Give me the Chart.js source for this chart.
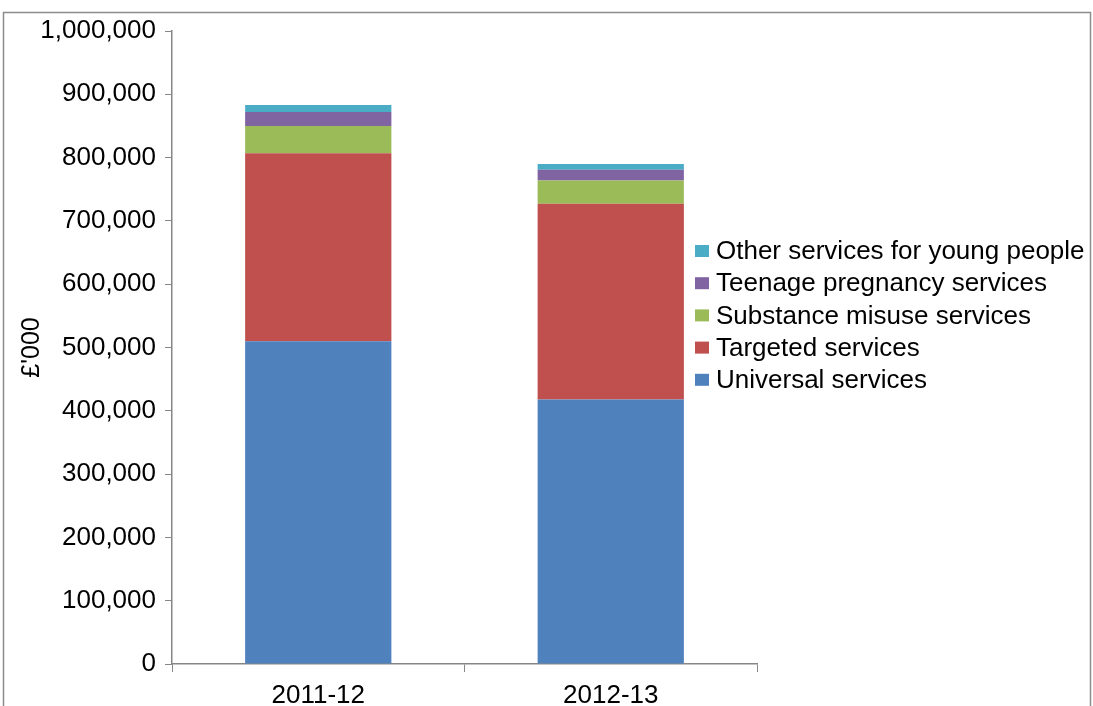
<!DOCTYPE html>
<html>
<head>
<meta charset="utf-8">
<script src="https://cdn.jsdelivr.net/npm/chart.js@4/dist/chart.umd.min.js"></script>
<style>
  html, body { margin: 0; padding: 0; background: #fff; }
  #wrap { width: 1093px; height: 706px; position: relative; }
</style>
</head>
<body>
<div id="wrap"><canvas id="chart1"></canvas></div>
<script>
// data (£'000)
var years = ['2011-12', '2012-13'];
var universal = [510000, 418000];
var targeted = [297000, 309000];
var substance = [43000, 37000];
var teenage = [22000, 17000];
var other = [11000, 9000];
var yTicks = [0, 100000, 200000, 300000, 400000, 500000, 600000, 700000, 800000, 900000, 1000000];

var FONT = 'Liberation Sans, Arial, sans-serif';

// grey frame round the whole picture + white background
var framePlugin = {
  id: 'frame',
  beforeDraw: function (chart) {
    var c = chart.ctx;
    c.save();
    c.fillStyle = '#fff';
    c.fillRect(0, 0, chart.width, chart.height);
    c.strokeStyle = '#8c8c8c';
    c.lineWidth = 1.5;
    c.strokeRect(3.5, 12.5, 1087, 720);
    c.restore();
  }
};

// legend drawn by hand so it can sit over the right side of the plot
var legendPlugin = {
  id: 'sideLegend',
  afterDraw: function (chart) {
    var c = chart.ctx;
    var sets = chart.data.datasets;
    c.save();
    c.font = '26px ' + FONT;
    c.textBaseline = 'middle';
    var y = 251;
    for (var i = sets.length - 1; i >= 0; i--) {
      c.fillStyle = sets[i].backgroundColor;
      c.fillRect(695, y - 6, 14, 12);
      c.fillStyle = '#000';
      c.fillText(sets[i].label, 716, y + 1);
      y += 32.2;
    }
    c.restore();
  }
};

var ctx1 = document.getElementById('chart1');
new Chart(ctx1, {
  type: 'bar',
  data: {
    labels: years,
    datasets: [
      { label: 'Universal services', data: universal, backgroundColor: '#4F81BD' },
      { label: 'Targeted services', data: targeted, backgroundColor: '#C0504D' },
      { label: 'Substance misuse services', data: substance, backgroundColor: '#9BBB59' },
      { label: 'Teenage pregnancy services', data: teenage, backgroundColor: '#8064A2' },
      { label: 'Other services for young people', data: other, backgroundColor: '#4BACC6' }
    ]
  },
  options: {
    responsive: true,
    maintainAspectRatio: false,
    animation: false,
    datasets: { bar: { categoryPercentage: 1.0, barPercentage: 0.5, borderWidth: 0 } },
    layout: { padding: { left: 17, right: 336, top: 31, bottom: 0 } },
    plugins: {
      legend: { display: false },
      tooltip: { enabled: false }
    },
    scales: {
      x: {
        stacked: true,
        grid: { display: true, drawOnChartArea: false, offset: true, tickLength: 8, color: '#868686', tickColor: '#868686' },
        border: { color: '#868686', width: 1.5 },
        ticks: { color: '#000', font: { family: FONT, size: 26 }, padding: 8, maxRotation: 0 },
        afterFit: function (s) { s.height = 42; }
      },
      y: {
        stacked: true,
        min: 0,
        max: 1000000,
        afterBuildTicks: function (s) { s.ticks = yTicks.map(function (v) { return { value: v }; }); },
        grid: { display: true, drawOnChartArea: false, tickLength: 7, color: '#868686', tickColor: '#868686' },
        border: { color: '#868686', width: 1.5 },
        ticks: {
          color: '#000',
          font: { family: FONT, size: 26 },
          padding: 9,
          callback: function (v) { return Number(v).toLocaleString('en-GB'); }
        },
        title: { display: true, text: '£\'000', color: '#000', font: { family: FONT, size: 25 }, padding: 0 },
        afterFit: function (s) { s.width = 155; }
      }
    }
  },
  plugins: [framePlugin, legendPlugin]
});
</script>
</body>
</html>
